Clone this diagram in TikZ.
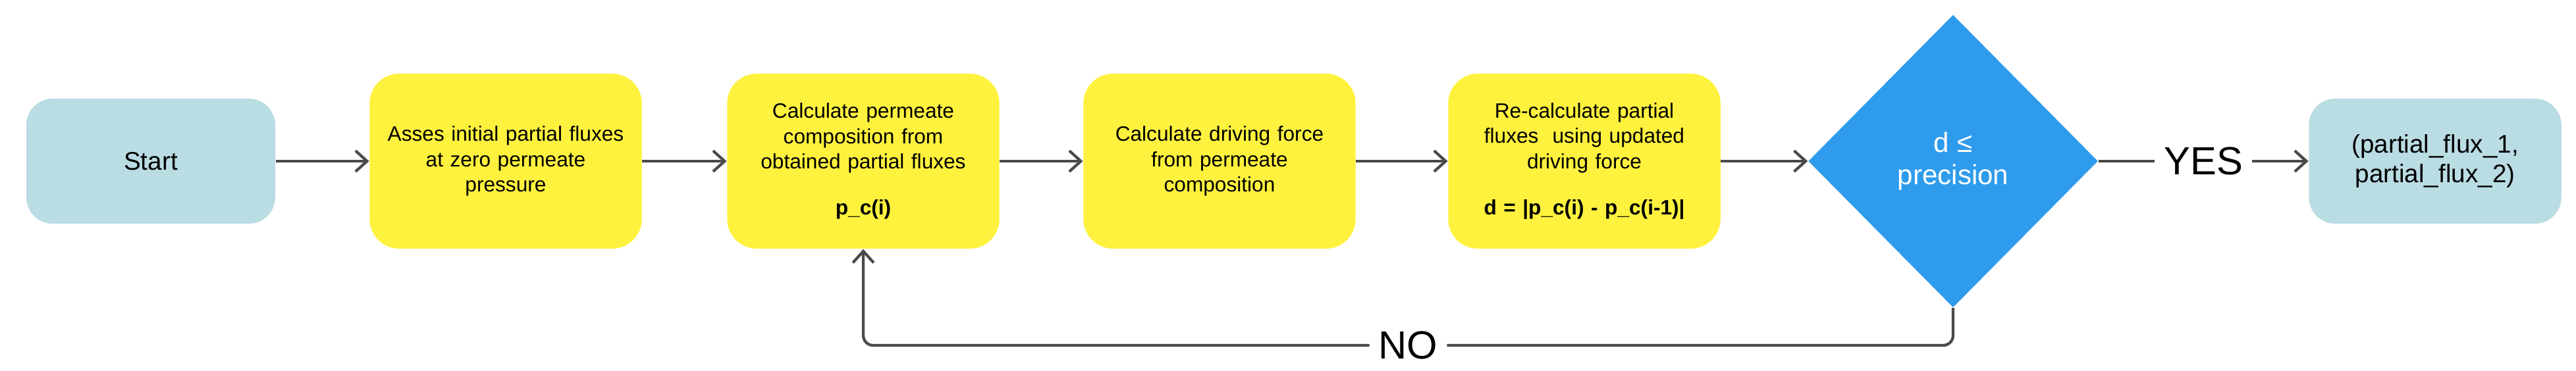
\documentclass[tikz,border=0pt]{standalone}
\usepackage{fontspec}
\setmainfont{Liberation Sans}
\usetikzlibrary{shapes.geometric,arrows.meta}
\definecolor{ylw}{HTML}{FFF23E}
\definecolor{lblue}{HTML}{BADCE3}
\definecolor{dblue}{HTML}{2F9BEC}
\definecolor{lne}{HTML}{4A4A4A}
\tikzset{
 box/.style={rectangle,rounded corners=0.45cm,fill=ylw,minimum width=4.0cm,minimum height=2.66cm,align=center,font=\fontsize{9}{11}\selectfont,text width=3.9cm},
 term/.style={rectangle,rounded corners=0.4cm,fill=lblue,minimum width=3.78cm,minimum height=1.9cm,align=center},
 arr/.style={draw=lne,line width=1.2pt,-{Straight Barb[length=5pt,width=9pt]}},
 lab/.style={font=\fontsize{17}{20}\selectfont,fill=white,inner sep=4pt}
}
\begin{document}
\begin{tikzpicture}
\useasboundingbox (0,0) rectangle (39.12,5.64);
\node[term,font=\fontsize{11}{13}\selectfont] (s) at (2.29,3.19) {Start};
\node[box] (a) at (7.68,3.19) {Asses initial partial fluxes\\at zero permeate\\pressure\\[2.3em]};
\node[box] (b) at (13.11,3.19) {Calculate permeate\\composition from\\obtained partial fluxes\\[1em]\textbf{p\_c(i)}};
\node[box] (c) at (18.52,3.19) {Calculate driving force\\from permeate\\composition};
\node[box] (e) at (24.06,3.19) {Re-calculate partial\\fluxes\ \ using updated\\driving force\\[1em]\textbf{d = |p\_c(i) - p\_c(i-1)|}};
\node[diamond,fill=dblue,minimum width=4.4cm,minimum height=4.45cm,inner sep=0pt,aspect=0.99,text=white,align=center,font=\fontsize{12}{14}\selectfont] (d) at (29.66,3.19) {d ≤\\precision};
\node[term,font=\fontsize{11}{13}\selectfont,text width=3.6cm] (f) at (36.98,3.19) {(partial\_flux\_1,\\partial\_flux\_2)};
\coordinate (lo) at (29.66,0.39);
\coordinate (lb) at (13.11,0.39);
\draw[arr] (s) -- (a);
\draw[arr] (a) -- (b);
\draw[arr] (b) -- (c);
\draw[arr] (c) -- (e);
\draw[arr] (e) -- (d);
\draw[arr] (d) -- node[lab] {YES} (f);
\draw[arr,rounded corners=0.15cm] (d.south) -- (lo) -- node[lab,pos=0.5] {NO} (lb) -- (b.south);
\end{tikzpicture}
\end{document}
